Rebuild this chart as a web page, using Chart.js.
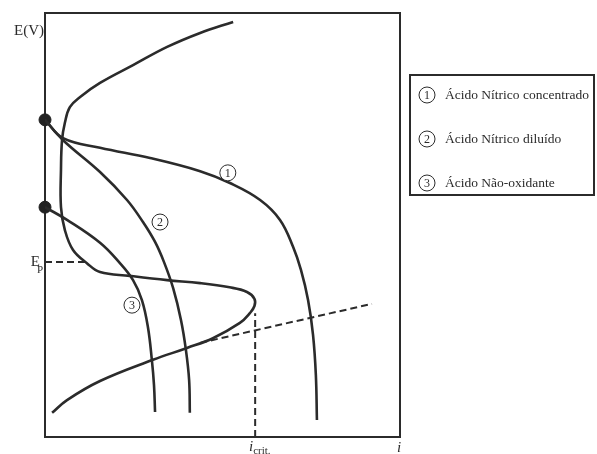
<!DOCTYPE html>
<html lang="pt">
<head>
<meta charset="utf-8">
<title>Curvas de polarização</title>
<script src="https://cdn.jsdelivr.net/npm/chart.js"></script>
<style>
  html,body{margin:0;padding:0;background:#fff}
</style>
</head>
<body>
<canvas id="chart" width="597" height="454"></canvas>
<script>
// curva anódica (metal ativo-passivo), pontos em unidades arbitrárias 0..100
const anodicX = [2.0, 6.2, 15.5, 30.4, 40.0, 47.3, 54.9, 57.7, 59.0, 59.0, 56.9, 52.0, 43.7, 34.4, 23.9, 15.5, 11.8, 7.9, 5.6, 4.5, 4.5, 4.8, 5.6, 7.0, 9.9, 15.5, 24.8, 34.4, 43.7, 53.0];
const anodicY = [5.7, 8.7, 13.2, 18.2, 21.0, 23.3, 26.9, 29.2, 30.9, 32.6, 34.2, 35.3, 36.3, 37.0, 38.0, 38.9, 41.0, 44.1, 48.8, 54.2, 63.0, 70.0, 74.1, 77.8, 80.2, 83.5, 87.7, 92.0, 95.3, 97.9];
// curvas catódicas
const c1X = [0, 5.1, 15.5, 29.6, 43.7, 52.1, 60.6, 66.2, 69.9, 72.1, 74.1, 75.5, 76.3, 76.6];
const c1Y = [74.8, 70.5, 68.2, 65.8, 62.7, 59.9, 55.9, 51.2, 44.8, 39.4, 32.3, 24.1, 14.6, 4.0];
const c2X = [0, 5.1, 15.5, 23.1, 27.6, 31.0, 33.5, 36.1, 38.3, 39.7, 40.6, 40.8];
const c2Y = [74.8, 70.0, 62.5, 55.9, 50.7, 46.0, 41.3, 35.1, 27.6, 20.5, 13.4, 5.7];
const c3X = [0, 6.2, 15.5, 21.1, 24.8, 27.3, 29.0, 30.1, 30.7, 31.0];
const c3Y = [54.2, 51.2, 45.8, 41.0, 37.0, 32.3, 25.9, 18.2, 12.3, 5.9];
// potenciais de equilíbrio (pontos no eixo)
const startY = [74.8, 54.2];
// linhas tracejadas
const ep = 41.3, epX = 11.8;
const iCrit = 59.2, iCritY = 29.2;
const tafelX = [43.7, 92.1];
const tafelY = [22.2, 31.4];
// rótulos
const curveTags = ['1', '2', '3'];
const tagX = [51.5, 32.4, 24.5];
const tagY = [62.3, 50.7, 31.1];
const legendLabels = ['Ácido Nítrico concentrado', 'Ácido Nítrico diluído', 'Ácido Não-oxidante'];

const pts = (xs, ys) => xs.map((v, i) => ({x: v, y: ys[i]}));
const ink = '#2b2b2b';
const serif = '"Liberation Serif", "DejaVu Serif", serif';

const curve = (data) => ({
  data, showLine: true, borderColor: ink, borderWidth: 2.6,
  pointRadius: 0, tension: 0.4, fill: false
});
const dashed = (data) => ({
  data, showLine: true, borderColor: ink, borderWidth: 2,
  borderDash: [7, 4], pointRadius: 0, tension: 0, fill: false
});

function circled(ctx, t, cx, cy) {
  ctx.beginPath();
  ctx.arc(cx, cy, 8, 0, Math.PI * 2);
  ctx.fillStyle = '#fff';
  ctx.fill();
  ctx.lineWidth = 1;
  ctx.strokeStyle = ink;
  ctx.stroke();
  ctx.fillStyle = ink;
  ctx.font = '12px ' + serif;
  ctx.textAlign = 'center';
  ctx.textBaseline = 'middle';
  ctx.fillText(t, cx, cy + 1);
}

const deco = {
  id: 'deco',
  beforeDatasetsDraw(chart) {
    const {ctx, chartArea: a} = chart;
    ctx.save();
    ctx.strokeStyle = ink;
    ctx.lineWidth = 2;
    ctx.strokeRect(a.left, a.top, a.right - a.left, a.bottom - a.top);
    ctx.restore();
  },
  afterDatasetsDraw(chart) {
    const {ctx, chartArea: a, scales: {x, y}} = chart;
    ctx.save();
    curveTags.forEach((t, i) => circled(ctx, t, x.getPixelForValue(tagX[i]), y.getPixelForValue(tagY[i])));

    ctx.fillStyle = ink;
    ctx.textBaseline = 'alphabetic';
    ctx.font = '15px ' + serif;
    ctx.textAlign = 'right';
    ctx.fillText('E(V)', a.left - 1, a.top + 22);
    // E_P
    const yEp = y.getPixelForValue(ep);
    ctx.fillText('E', a.left - 5, yEp + 4);
    ctx.font = '11px ' + serif;
    ctx.textAlign = 'left';
    ctx.fillText('P', a.left - 8, yEp + 11);
    // i crit.
    const xc = x.getPixelForValue(iCrit);
    ctx.font = 'italic 15px ' + serif;
    ctx.textAlign = 'right';
    ctx.fillText('i', xc - 2, a.bottom + 14);
    ctx.font = '11px ' + serif;
    ctx.textAlign = 'left';
    ctx.fillText('crit.', xc - 2, a.bottom + 17);
    ctx.font = 'italic 15px ' + serif;
    ctx.textAlign = 'center';
    ctx.fillText('i', a.right - 1, a.bottom + 15);

    // legenda
    const lx = a.right + 10, ly = 75, lw = 184, lh = 120;
    ctx.lineWidth = 2;
    ctx.strokeStyle = ink;
    ctx.strokeRect(lx, ly, lw, lh);
    legendLabels.forEach((t, i) => {
      const cy = ly + 20 + i * 44;
      circled(ctx, curveTags[i], lx + 17, cy);
      ctx.fillStyle = ink;
      ctx.font = '13.5px ' + serif;
      ctx.textAlign = 'left';
      ctx.textBaseline = 'middle';
      ctx.fillText(t, lx + 35, cy);
    });
    ctx.restore();
  }
};

new Chart(document.getElementById('chart'), {
  type: 'scatter',
  data: {
    datasets: [
      curve(pts(anodicX, anodicY)),
      curve(pts(c1X, c1Y)),
      curve(pts(c2X, c2Y)),
      curve(pts(c3X, c3Y)),
      dashed([{x: 0, y: ep}, {x: epX, y: ep}]),
      dashed([{x: iCrit, y: 0}, {x: iCrit, y: iCritY}]),
      dashed(pts(tafelX, tafelY)),
      {
        data: startY.map(v => ({x: 0, y: v})),
        showLine: false, pointRadius: 6, pointBackgroundColor: '#222',
        pointBorderColor: '#222', clip: false
      }
    ]
  },
  options: {
    responsive: false,
    animation: false,
    layout: {padding: {left: 45, top: 13, right: 197, bottom: 17}},
    plugins: {legend: {display: false}, tooltip: {enabled: false}},
    scales: {
      x: {type: 'linear', min: 0, max: 100, display: false},
      y: {type: 'linear', min: 0, max: 100, display: false}
    }
  },
  plugins: [deco]
});
</script>
</body>
</html>
